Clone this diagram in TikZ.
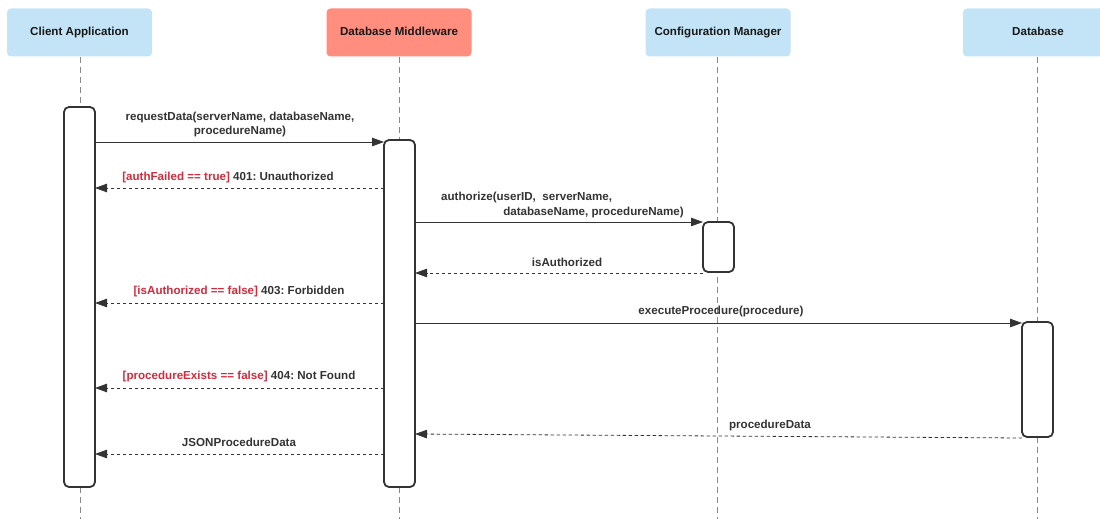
\documentclass[tikz,border=0pt]{standalone}
\usepackage{fontspec}
\setmainfont{Liberation Sans}
\frenchspacing
\usetikzlibrary{arrows.meta}
\definecolor{hdrblue}{HTML}{C3E4F6}
\definecolor{hdrred}{HTML}{FF8E7E}
\definecolor{txt}{HTML}{333333}
\definecolor{guard}{HTML}{D42A3C}
\definecolor{life}{HTML}{8A8A8A}
\tikzset{
  hdr/.style={rounded corners=4pt, minimum width=145pt, minimum height=48pt, inner sep=0pt, text height=8.5pt, text depth=2.5pt, font=\bfseries\fontsize{11.6}{13}\selectfont, text=black!90},
  actbar/.style={draw=txt, line width=1.8pt, fill=white, rounded corners=5pt},
  lifeline/.style={draw=life, dash pattern=on 6pt off 4pt, line width=0.7pt},
  call/.style={draw=txt, line width=0.8pt, -{Triangle[length=12pt,width=8.5pt]}},
  reply/.style={draw=txt, line width=0.8pt, dash pattern=on 3.5pt off 2.5pt, -{Triangle[length=12pt,width=8.5pt]}},
  lbl/.style={font=\bfseries\fontsize{11.6}{14.5}\selectfont, text=txt, inner sep=0pt},
}
\begin{document}
\begin{tikzpicture}[x=1pt,y=-1pt]
\useasboundingbox (0,0) rectangle (1100,519);
% headers
\node[hdr, fill=hdrblue] (ca) at (79.5,32.5) {Client Application};
\node[hdr, fill=hdrred] (dm) at (399,32.5) {Database Middleware};
\node[hdr, fill=hdrblue] (cm) at (718,32.5) {Configuration Manager};
\node[hdr, fill=hdrblue, minimum width=150pt] (db) at (1038,32.5) {Database};
% lifelines
\coordinate (caE) at (80,519);
\coordinate (dmE) at (399,519);
\coordinate (cmE) at (717,519);
\coordinate (dbE) at (1037,519);
\draw[lifeline] (ca.south -| caE) -- (caE);
\draw[lifeline] (dm.south -| dmE) -- (dmE);
\draw[lifeline] (cm.south -| cmE) -- (cmE);
\draw[lifeline] (db.south -| dbE) -- (dbE);
% activation bars
\draw[actbar] (64,107) rectangle (95,487);
\draw[actbar] (384,140) rectangle (415,487);
\draw[actbar] (703,222) rectangle (734,272);
\draw[actbar] (1022,322) rectangle (1053,437);
\coordinate (a1) at (95,142);   \coordinate (b1) at (384,142);
\coordinate (a2) at (95,188);   \coordinate (b2) at (384,188);
\coordinate (b3) at (415,222);  \coordinate (c3) at (703,222);
\coordinate (b4) at (415,273);  \coordinate (c4) at (703,273);
\coordinate (a5) at (95,303);   \coordinate (b5) at (384,303);
\coordinate (b6) at (415,323);  \coordinate (d6) at (1022,323);
\coordinate (a7) at (95,388);   \coordinate (b7) at (384,388);
\coordinate (b8) at (415,434);  \coordinate (d8) at (1022,438);
\coordinate (a9) at (95,454);   \coordinate (b9) at (384,454);
% messages
\draw[call] (a1) -- (b1);
\node[lbl, align=center] (l1) at (240,124.5) {requestData(serverName, databaseName,\\procedureName)};
\draw[reply] (b2) -- (a2);
\node[lbl] (l2) at (228,177) {\textcolor{guard}{[authFailed == true]} 401: Unauthorized};
\draw[call] (b3) -- (c3);
\node[lbl, anchor=west] (l3a) at (441,197) {authorize(userID,\ \ serverName,};
\node[lbl, anchor=east] (l3b) at (684,212) {databaseName, procedureName)};
\draw[reply] (c4) -- (b4);
\node[lbl] (l4) at (567,262) {isAuthorized};
\draw[reply] (b5) -- (a5);
\node[lbl] (l5) at (239,291.5) {\textcolor{guard}{[isAuthorized == false]} 403: Forbidden};
\draw[call] (b6) -- (d6);
\node[lbl] (l6) at (721,311.5) {executeProcedure(procedure)};
\draw[reply] (b7) -- (a7);
\node[lbl] (l7) at (239,376.5) {\textcolor{guard}{[procedureExists == false]} 404: Not Found};
\draw[reply] (d8) -- (b8);
\node[lbl] (l8) at (770,425) {procedureData};
\draw[reply] (b9) -- (a9);
\node[lbl] (l9) at (239,442) {JSONProcedureData};
\end{tikzpicture}
\end{document}
